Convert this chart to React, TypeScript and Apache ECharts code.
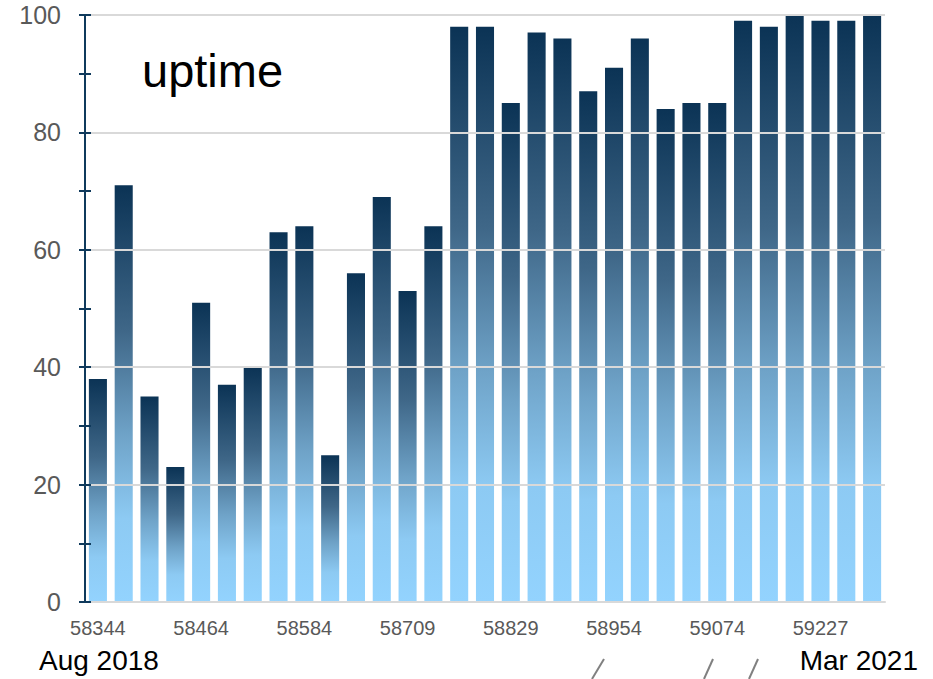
import React, { useEffect, useRef } from "react";
import * as echarts from "echarts";

const categories = [
  "58344", "58374", "58404", "58434",
  "58464", "58494", "58524", "58554",
  "58584", "58615", "58646", "58678",
  "58709", "58739", "58769", "58799",
  "58829", "58860", "58891", "58923",
  "58954", "58984", "59014", "59044",
  "59074", "59112", "59150", "59189",
  "59227", "59257", "59287",
];

const uptimeValues = [
  38, 71, 35, 23, 51, 37, 40, 63, 64, 25, 56, 69, 53, 64, 98, 98,
  85, 97, 96, 87, 91, 96, 84, 85, 85, 99, 98, 100, 99, 99, 100,
];

const yTickLabels = [0, 20, 40, 60, 80, 100];

const titleText = "uptime";
const startLabel = "Aug 2018";
const endLabel = "Mar 2021";

export default function App() {
  const ref = useRef<HTMLDivElement>(null);

  useEffect(() => {
    if (!ref.current) return;
    const chart = echarts.init(ref.current, undefined, { renderer: "svg" });
    const navy = "#0f3a5c";
    const grey = "#595959";
    const font = "Liberation Sans, Arial, sans-serif";

    const gradient = new echarts.graphic.LinearGradient(0, 0, 0, 1, [
      { offset: 0, color: "#0b3355" },
      { offset: 0.35, color: "#3f6788" },
      { offset: 0.6, color: "#6fa3c8" },
      { offset: 0.8, color: "#8dcaf3" },
      { offset: 1, color: "#93d3fe" },
    ]);

    chart.setOption({
      animation: false,
      backgroundColor: "#ffffff",
      grid: { left: 85, right: 48, top: 15, bottom: 77, containLabel: false },
      xAxis: {
        type: "category",
        data: categories,
        axisLine: { show: true, lineStyle: { color: "#d9d9d9", width: 2 } },
        axisTick: { show: false },
        axisLabel: {
          interval: 3,
          color: grey,
          fontSize: 20,
          fontFamily: font,
          margin: 16,
        },
        splitLine: { show: false },
      },
      yAxis: [
        {
          type: "value",
          min: 0,
          max: 100,
          interval: 20,
          axisLine: { show: true, lineStyle: { color: navy, width: 2 } },
          axisTick: { show: false },
          axisLabel: {
            color: grey,
            fontSize: 25,
            fontFamily: font,
            margin: 24,
            formatter: (v: number) => (yTickLabels.includes(v) ? String(v) : ""),
          },
          splitLine: { show: true, lineStyle: { color: "#d9d9d9", width: 2 } },
          z: 3,
        },
        {
          type: "value",
          min: 0,
          max: 100,
          interval: 10,
          position: "left",
          axisLine: { show: true, lineStyle: { color: navy, width: 2 } },
          axisTick: { show: true, length: 6, lineStyle: { color: navy, width: 2 } },
          axisLabel: { show: false },
          splitLine: { show: false },
          z: 4,
        },
        {
          type: "value",
          min: 0,
          max: 100,
          interval: 10,
          position: "left",
          axisLine: { show: true, lineStyle: { color: navy, width: 2 } },
          axisTick: { show: true, inside: true, length: 6, lineStyle: { color: navy, width: 2 } },
          axisLabel: { show: false },
          splitLine: { show: false },
          z: 4,
        },
      ],
      series: [
        {
          type: "bar",
          data: uptimeValues,
          yAxisIndex: 0,
          barCategoryGap: "30%",
          itemStyle: { color: gradient },
          z: 2,
        },
      ],
      graphic: [
        {
          type: "text",
          left: 142,
          top: 47,
          style: { text: titleText, fontSize: 47, fontFamily: font, fill: "#000000" },
        },
        {
          type: "text",
          left: 39,
          top: 646,
          style: { text: startLabel, fontSize: 28, fontFamily: font, fill: "#000000" },
        },
        {
          type: "text",
          right: 15,
          top: 646,
          style: { text: endLabel, fontSize: 28, fontFamily: font, fill: "#000000" },
        },
        {
          type: "line",
          shape: { x1: 592, y1: 679, x2: 604, y2: 659 },
          style: { stroke: "#808080", lineWidth: 2 },
        },
        {
          type: "line",
          shape: { x1: 704, y1: 679, x2: 713, y2: 659 },
          style: { stroke: "#808080", lineWidth: 2 },
        },
        {
          type: "line",
          shape: { x1: 749, y1: 679, x2: 758, y2: 659 },
          style: { stroke: "#808080", lineWidth: 2 },
        },
      ],
    });

    return () => chart.dispose();
  }, []);

  return <div ref={ref} style={{ width: 933, height: 679, position: "fixed", left: 0, top: 0 }} />;
}
